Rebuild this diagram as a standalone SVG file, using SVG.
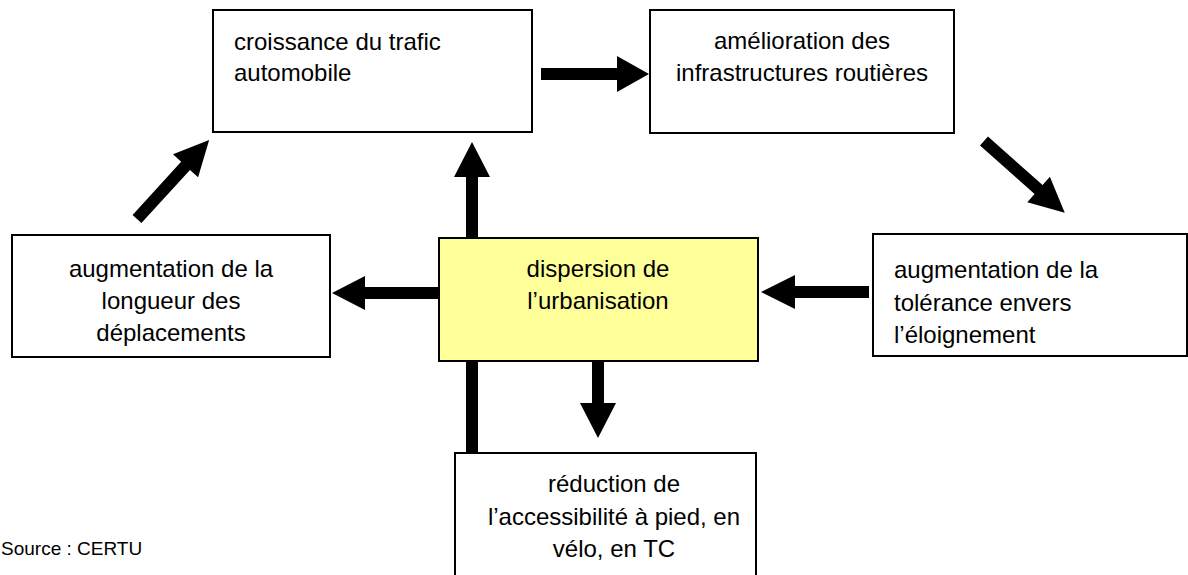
<svg xmlns="http://www.w3.org/2000/svg" width="1188" height="575" viewBox="0 0 1188 575">
<style>
.box{fill:#ffffff;stroke:#000000;stroke-width:2}
.hl{fill:#ffff99;stroke:#000000;stroke-width:2}
text{font-family:"Liberation Sans",Arial,sans-serif;font-size:24px;fill:#000000}
.c{text-anchor:middle}
.src{font-size:19px}
.arr{fill:#000000;stroke:none}
</style>
<rect width="1188" height="575" fill="#ffffff"/>
<g id="connectors">
<polygon class="arr" points="541,68 617,68 617,56 649,74 617,92 617,80 541,80"/>
<path class="arr" d="M0,-6 L73,-6 L73,-17 L108,0 L73,17 L73,6 L0,6 Z" transform="translate(984,141) rotate(41.6)"/>
<path class="arr" d="M0,-6 L72,-6 L72,-17 L107,0 L72,17 L72,6 L0,6 Z" transform="translate(137,219) rotate(-47.6)"/>
<polygon class="arr" points="439,287 365,287 365,276 332,293 365,310 365,299 439,299"/>
<polygon class="arr" points="869,286 795,286 795,275 761,292 795,309 795,298 869,298"/>
<polygon class="arr" points="592,361 604,361 604,403 616,403 598,438 580,403 592,403"/>
<polygon class="arr" points="466,453 466,177 454,177 472,142 490,177 478,177 478,453"/>
</g>
<g id="node-croissance">
<rect class="box" x="213" y="10" width="319" height="122"/>
<text x="234" y="50">croissance du trafic</text>
<text x="234" y="81">automobile</text>
</g>
<g id="node-amelioration">
<rect class="box" x="650" y="10" width="304" height="123"/>
<text class="c" x="802" y="49">amélioration des</text>
<text class="c" x="802" y="81">infrastructures routières</text>
</g>
<g id="node-longueur">
<rect class="box" x="12" y="235" width="318" height="122"/>
<text class="c" x="171" y="277">augmentation de la</text>
<text class="c" x="171" y="309">longueur des</text>
<text class="c" x="171" y="341">déplacements</text>
</g>
<g id="node-dispersion">
<rect class="hl" x="439" y="238" width="319" height="123"/>
<text class="c" x="598" y="277">dispersion de</text>
<text class="c" x="598" y="309">l’urbanisation</text>
</g>
<g id="node-tolerance">
<rect class="box" x="873" y="234" width="314" height="122"/>
<text x="894" y="278">augmentation de la</text>
<text x="894" y="311">tolérance envers</text>
<text x="894" y="343">l’éloignement</text>
</g>
<g id="node-reduction">
<rect class="box" x="455" y="453" width="301" height="130"/>
<text class="c" x="614" y="492">réduction de</text>
<text class="c" x="614" y="525">l’accessibilité à pied, en</text>
<text class="c" x="614" y="557">vélo, en TC</text>
</g>
<text class="src" x="1" y="555">Source : CERTU</text>
</svg>
